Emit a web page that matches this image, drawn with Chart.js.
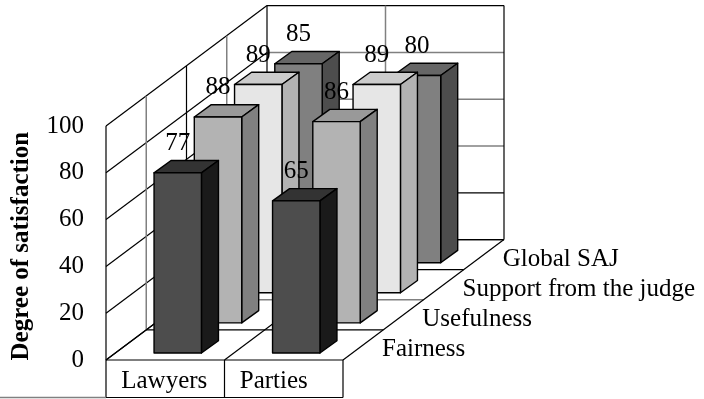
<!DOCTYPE html>
<html>
<head>
<meta charset="utf-8">
<style>
  html, body { margin: 0; padding: 0; background: #fff; }
  #wrap { width: 704px; height: 399px; }
</style>
<script src="https://cdn.jsdelivr.net/npm/chart.js@4"></script>
</head>
<body>
<div id="wrap"><canvas id="chart"></canvas></div>
<script>
var categories = ["Lawyers", "Parties"];
var rows = ["Fairness", "Usefulness", "Support from the judge", "Global SAJ"];
var fairness = [77, 65];
var usefulness = [88, 86];
var support = [89, 89];
var globalSaj = [85, 80];
var yTicks = [0, 20, 40, 60, 80, 100];

var serif = "'Liberation Serif', 'Times New Roman', serif";

// oblique projection: how far one row moves the drawing right and up
var rowDx = 40.25;
var rowDy = 30.1;
var barDx = 17;
var barDy = 12.3;
var barGapX = 12.5;
var barGapY = 7;

// front, top, side colours per row
var faces = [
    ["#4d4d4d", "#333333", "#1a1a1a"],
    ["#b3b3b3", "#999999", "#808080"],
    ["#e6e6e6", "#cccccc", "#b3b3b3"],
    ["#808080", "#666666", "#4d4d4d"]
];

function line(ctx, x1, y1, x2, y2, color) {
    ctx.strokeStyle = color || "#000";
    ctx.lineWidth = color ? 1.5 : 1.2;
    ctx.beginPath();
    ctx.moveTo(x1, y1);
    ctx.lineTo(x2, y2);
    ctx.stroke();
}

function poly(ctx, pts, fill) {
    ctx.fillStyle = fill;
    ctx.strokeStyle = "#000";
    ctx.lineWidth = 1.4;
    ctx.lineJoin = "round";
    ctx.beginPath();
    ctx.moveTo(pts[0][0], pts[0][1]);
    for (var i = 1; i < pts.length; i++) ctx.lineTo(pts[i][0], pts[i][1]);
    ctx.closePath();
    ctx.fill();
    ctx.stroke();
}

var box3d = {
    id: "box3d",
    // walls, floor and the cells under the axis
    beforeDatasetsDraw: function (chart) {
        var ctx = chart.ctx;
        var x = chart.scales.x;
        var y = chart.scales.y;
        var n = rows.length;
        var backX = n * rowDx;
        var backY = n * rowDy;
        var gray = "#808080";
        ctx.save();

        yTicks.forEach(function (t) {
            var py = y.getPixelForValue(t);
            var black = t === 0 || t === 20 || t === 100;
            line(ctx, x.left, py, x.left + backX, py - backY);
            line(ctx, x.left + backX, py - backY, x.right + backX, py - backY, black ? null : gray);
        });

        // left wall uprights and floor rows
        for (var i = 0; i <= n; i++) {
            var ox = i * rowDx;
            var oy = i * rowDy;
            line(ctx, x.left + ox, y.top - oy, x.left + ox, y.bottom - oy, i % 2 ? gray : null);
            line(ctx, x.left + ox, y.bottom - oy, x.right + ox, y.bottom - oy, i === 2 ? gray : null);
        }

        // category boundaries across floor and back wall
        var cell = (x.right - x.left) / categories.length;
        for (var k = 0; k <= categories.length; k++) {
            var bx = x.left + k * cell;
            line(ctx, bx, y.bottom, bx + backX, y.bottom - backY);
            line(ctx, bx, y.bottom, bx, chart.height - 1.5);
            if (k > 0) {
                line(ctx, bx + backX, y.top - backY, bx + backX, y.bottom - backY, k === 1 ? gray : null);
            }
        }
        line(ctx, x.left, chart.height - 1.5, x.right, chart.height - 1.5);
        line(ctx, 0, chart.height - 1.5, x.left, chart.height - 1.5, gray);
        ctx.restore();
    },
    // replaces the flat bars with three faced ones, back row is painted first
    beforeDatasetDraw: function (chart, args) {
        var ctx = chart.ctx;
        var row = args.index;
        var ox = barGapX + row * rowDx;
        var oy = barGapY + row * rowDy;
        ctx.save();
        args.meta.data.forEach(function (bar) {
            var l = bar.x - bar.width / 2 + ox;
            var r = bar.x + bar.width / 2 + ox;
            var t = bar.y - oy;
            var b = bar.base - oy;
            poly(ctx, [[l, t], [r, t], [r + barDx, t - barDy], [l + barDx, t - barDy]], faces[row][1]);
            poly(ctx, [[r, t], [r + barDx, t - barDy], [r + barDx, b - barDy], [r, b]], faces[row][2]);
            poly(ctx, [[l, t], [r, t], [r, b], [l, b]], faces[row][0]);
        });
        ctx.restore();
        return false;
    },
    // value labels and the row names sit above everything else
    afterDatasetsDraw: function (chart) {
        var ctx = chart.ctx;
        var x = chart.scales.x;
        var y = chart.scales.y;
        ctx.save();
        ctx.fillStyle = "#000";
        ctx.font = "25px " + serif;
        ctx.textBaseline = "middle";
        chart.data.datasets.forEach(function (ds, row) {
            var meta = chart.getDatasetMeta(row);
            ctx.textAlign = "center";
            meta.data.forEach(function (bar, i) {
                ctx.fillText(String(ds.data[i]), bar.x + barGapX + row * rowDx, bar.y - barGapY - row * rowDy - barDy - 17);
            });
            ctx.textAlign = "left";
            ctx.fillText(rows[row], x.right + 39 + row * rowDx, y.bottom - 10.5 - row * rowDy);
        });
        ctx.restore();
    }
};

new Chart(document.getElementById("chart"), {
    type: "bar",
    plugins: [box3d],
    data: {
        labels: categories,
        datasets: [
            { label: rows[0], data: fairness, backgroundColor: faces[0][0] },
            { label: rows[1], data: usefulness, backgroundColor: faces[1][0] },
            { label: rows[2], data: support, backgroundColor: faces[2][0] },
            { label: rows[3], data: globalSaj, backgroundColor: faces[3][0] }
        ]
    },
    options: {
        responsive: true,
        maintainAspectRatio: false,
        animation: false,
        grouped: false,
        barPercentage: 0.4,
        categoryPercentage: 1,
        layout: { padding: { top: 126, right: 361 } },
        plugins: { legend: { display: false }, tooltip: { enabled: false } },
        scales: {
            x: {
                afterFit: function (s) { s.height = 39; },
                grid: { display: false },
                border: { display: false },
                ticks: {
                    align: "start",
                    labelOffset: -44,
                    padding: -2,
                    maxRotation: 0,
                    color: "#000",
                    font: { family: serif, size: 25 }
                }
            },
            y: {
                min: 0,
                max: 100,
                afterFit: function (s) { s.width = 106; },
                afterBuildTicks: function (s) {
                    s.ticks = yTicks.map(function (v) { return { value: v }; });
                },
                grid: { display: false },
                border: { display: false },
                title: {
                    display: true,
                    text: "Degree of satisfaction ",
                    color: "#000",
                    padding: { top: 7, bottom: 0 },
                    font: { family: serif, size: 25, weight: "bold" }
                },
                ticks: {
                    padding: 14,
                    color: "#000",
                    font: { family: serif, size: 25 }
                }
            }
        }
    }
});
</script>
</body>
</html>
